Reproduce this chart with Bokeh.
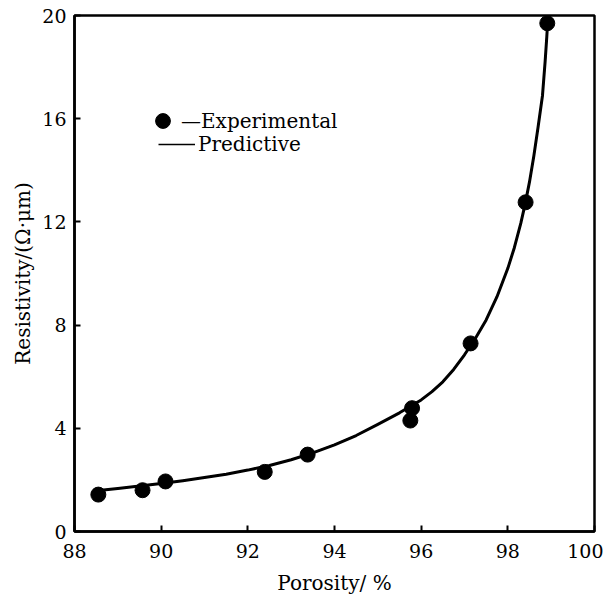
from bokeh.plotting import figure
from bokeh.models import Legend, LegendItem, FixedTicker, Range1d
from bokeh.embed import file_html
from bokeh.resources import INLINE

exp_porosity = [88.55, 89.57, 90.10, 92.39, 93.38, 95.75, 95.79, 97.14, 98.41, 98.91]
exp_resistivity = [1.43, 1.60, 1.94, 2.31, 2.98, 4.30, 4.78, 7.29, 12.76, 19.70]

# Predictive curve
pred_porosity = [88.5, 89.0, 89.5, 90.0, 90.5, 91.0, 91.5, 92.0, 92.5, 93.0, 93.5,
                 94.0, 94.5, 95.0, 95.5, 96.0, 96.25, 96.5, 96.75, 97.0, 97.25,
                 97.5, 97.75, 98.0, 98.15, 98.3, 98.4, 98.5, 98.6, 98.7, 98.8,
                 98.86, 98.9, 98.92]
pred_resistivity = [1.58, 1.67, 1.76, 1.86, 1.97, 2.09, 2.22, 2.38, 2.56, 2.78, 3.05,
                    3.36, 3.72, 4.15, 4.60, 5.10, 5.42, 5.80, 6.28, 6.85, 7.48,
                    8.20, 9.10, 10.20, 11.00, 11.95, 12.70, 13.55, 14.55, 15.70, 16.90,
                    18.20, 19.20, 19.75]

x_ticks = [88, 90, 92, 94, 96, 98, 100]
y_ticks = [0, 4, 8, 12, 16, 20]

FONT = "DejaVu Serif"

p = figure(width=603, height=598, output_backend="svg", toolbar_location=None,
           x_range=Range1d(88, 100), y_range=Range1d(0, 20),
           min_border_left=74, min_border_right=9, min_border_top=15, min_border_bottom=67)

p.xgrid.visible = False
p.ygrid.visible = False
p.outline_line_color = "black"
p.outline_line_width = 2.5
p.background_fill_color = "white"
p.border_fill_color = "white"

for ax in (p.xaxis[0], p.yaxis[0]):
    ax.axis_line_width = 2.5
    ax.axis_line_color = "black"
    ax.major_tick_in = 6
    ax.major_tick_out = 0
    ax.major_tick_line_width = 2
    ax.major_tick_line_color = "black"
    ax.minor_tick_line_color = None
    ax.major_label_text_font = FONT
    ax.major_label_text_font_size = "19px"
    ax.major_label_text_color = "black"
    ax.axis_label_text_font = FONT
    ax.axis_label_text_font_size = "20px"
    ax.axis_label_text_font_style = "normal"
    ax.axis_label_text_color = "black"

p.xaxis.ticker = FixedTicker(ticks=x_ticks)
p.yaxis.ticker = FixedTicker(ticks=y_ticks)
p.xaxis.major_label_standoff = 12
p.yaxis.major_label_standoff = 8
p.xaxis.axis_label = "Porosity/ %"
p.yaxis.axis_label = "Resistivity/(Ω·μm)"
p.xaxis.axis_label_standoff = 10
p.yaxis.axis_label_standoff = 4

# thin stroke of the predictive curve (used for the legend swatch), under the bold one
thin_curve = p.line(pred_porosity, pred_resistivity, line_color="black", line_width=1.5)
curve = p.line(pred_porosity, pred_resistivity, line_color="black", line_width=3,
               line_join="round")
dots = p.scatter(exp_porosity, exp_resistivity, size=15, fill_color="black",
                 line_color="black", marker="circle")

leg1 = Legend(items=[LegendItem(label="—Experimental", renderers=[dots])],
              location=(70, 392), glyph_width=37, glyph_height=37, label_height=20,
              label_standoff=0, padding=0, margin=0, border_line_color=None,
              background_fill_alpha=0, label_text_font=FONT, label_text_font_size="20px",
              label_text_color="black")
leg2 = Legend(items=[LegendItem(label="Predictive", renderers=[thin_curve])],
              location=(84, 375), glyph_width=37, glyph_height=20, label_height=20,
              label_standoff=3, padding=0, margin=0, border_line_color=None,
              background_fill_alpha=0, label_text_font=FONT, label_text_font_size="20px",
              label_text_color="black")
p.add_layout(leg1)
p.add_layout(leg2)

open("out.html", "w").write(file_html(p, INLINE))
